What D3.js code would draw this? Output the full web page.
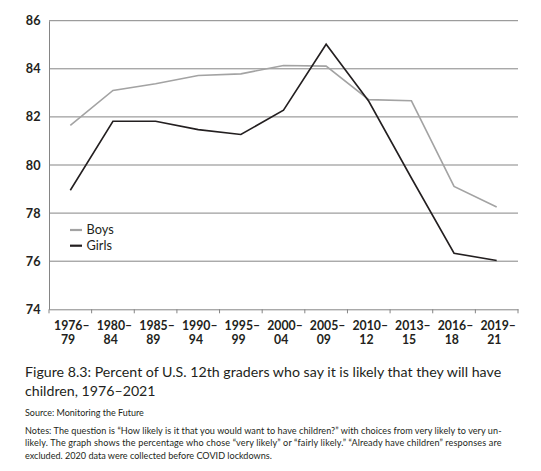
<!DOCTYPE html>
<html><head><meta charset="utf-8">
<script src="https://cdn.jsdelivr.net/npm/d3@7"></script>
<style>body{margin:0;background:#fff}svg{display:block}</style>
</head><body>
<svg id="c" width="541" height="471"></svg>
<script>
const categories = [["1976–","79"],["1980–","84"],["1985–","89"],["1990–","94"],["1995–","99"],["2000–","04"],["2005–","09"],["2010–","12"],["2013–","15"],["2016–","18"],["2019–","21"]];
const boys = [81.65, 83.1, 83.38, 83.72, 83.79, 84.14, 84.11, 82.72, 82.67, 79.11, 78.25];
const girls = [78.95, 81.82, 81.82, 81.47, 81.27, 82.28, 85.02, 82.65, 79.46, 76.33, 76.03];
const yTicks = [74, 76, 78, 80, 82, 84, 86];
const seriesNames = ["Boys", "Girls"];
const caption = ["Figure 8.3: Percent of U.S. 12th graders who say it is likely that they will have", "children, 1976–2021"];
const source = "Source: Monitoring the Future";
const notes = ["Notes: The question is “How likely is it that you would want to have children?” with choices from very likely to very un-",
  "likely. The graph shows the percentage who chose “very likely” or “fairly likely.” “Already have children” responses are",
  "excluded. 2020 data were collected before COVID lockdowns."];

const svg = d3.select("#c");
const font = "Lato, 'Open Sans', sans-serif";
const ink = "#231f20";
const L = 49, R = 518, T = 20.7, B = 309.3;
const x = d3.scaleBand().domain(categories.map((d,i)=>i)).range([L, R]);
const y = d3.scaleLinear().domain([74, 86]).range([B, T]);

function fitSize(text, weight, target) {
  const t = svg.append("text").attr("font-family", font).attr("font-weight", weight)
    .attr("font-size", 20).text(text);
  const w = t.node().getComputedTextLength();
  t.remove();
  return 20 * target / w;
}
const fsY = fitSize("86", "bold", 14.7);
const fsX = fitSize("1976", "bold", 28.5);
const fsCap = fitSize(caption[0], "normal", 476.5);
const fsSrc = fitSize(source, "normal", 119);
const fsNote = fitSize(notes[2], "normal", 247);
const fsLeg = fitSize("Girls", "normal", 25.5);

// gridlines
svg.append("g").selectAll("line").data(yTicks.filter(v=>v>74)).join("line")
  .attr("x1", L).attr("x2", R).attr("y1", d=>y(d)).attr("y2", d=>y(d))
  .attr("stroke", "#858585").attr("stroke-width", 1);

// y axis
const ya = svg.append("g").attr("transform", `translate(${L},0)`)
  .call(d3.axisLeft(y).tickValues(yTicks).tickSize(0).tickPadding(8.5));
ya.select(".domain").attr("stroke", "#858585");
ya.selectAll("text").attr("font-family", font).attr("font-weight", "bold")
  .attr("font-size", fsY).attr("fill", ink);

// x axis
const xa = svg.append("g").attr("transform", `translate(0,${B})`)
  .call(d3.axisBottom(x).tickSize(0).tickFormat(""));
xa.select(".domain").attr("stroke", "#858585");
svg.append("g").selectAll("line").data(d3.range(categories.length + 1)).join("line")
  .attr("x1", i => L + i * x.step()).attr("x2", i => L + i * x.step())
  .attr("y1", B).attr("y2", B + 4).attr("stroke", "#858585");
const xl = svg.append("g").selectAll("text").data(categories).join("text")
  .attr("font-family", font).attr("font-weight", "bold")
  .attr("font-size", fsX).attr("fill", ink);
xl.append("tspan").attr("x", (d,i)=>x(i)+x.bandwidth()/2 - 16.3).attr("y", 329.5).text(d=>d[0]);
xl.append("tspan").attr("x", (d,i)=>x(i)+x.bandwidth()/2 - 2.3).attr("y", 344)
  .attr("text-anchor", "middle").text(d=>d[1]);

// lines
const line = d3.line().x((d,i)=>x(i)+x.bandwidth()/2).y(d=>y(d));
svg.append("path").datum(boys).attr("d", line).attr("fill", "none")
  .attr("stroke", "#a3a3a3").attr("stroke-width", 1.6);
svg.append("path").datum(girls).attr("d", line).attr("fill", "none")
  .attr("stroke", ink).attr("stroke-width", 1.6);

// legend
const colors = ["#a3a3a3", ink];
const lg = svg.append("g").selectAll("g").data(seriesNames).join("g")
  .attr("transform", (d,i)=>`translate(70,${230 + i*15.7})`);
lg.append("line").attr("x1", 0).attr("x2", 12).attr("stroke", (d,i)=>colors[i]).attr("stroke-width", 2.2);
lg.append("text").attr("x", 16.5).attr("y", 4.3).text(d=>d)
  .attr("font-family", font).attr("font-size", fsLeg).attr("fill", ink);

// caption
svg.append("g").selectAll("text").data(caption).join("text")
  .attr("x", 25).attr("y", (d,i)=>377 + i*18.5).text(d=>d)
  .attr("font-family", font).attr("font-size", fsCap).attr("fill", ink);
svg.append("text").attr("x", 25).attr("y", 416).text(source)
  .attr("font-family", font).attr("font-size", fsSrc).attr("fill", ink);
svg.append("g").selectAll("text").data(notes).join("text")
  .attr("x", 25).attr("y", (d,i)=>433.5 + i*12.6).text(d=>d)
  .attr("font-family", font).attr("font-size", fsNote).attr("fill", ink)
  .each(function(d,i){ if (i < 2) { d3.select(this).attr("textLength", 476.5).attr("lengthAdjust", "spacing"); } });
</script>
</body></html>
